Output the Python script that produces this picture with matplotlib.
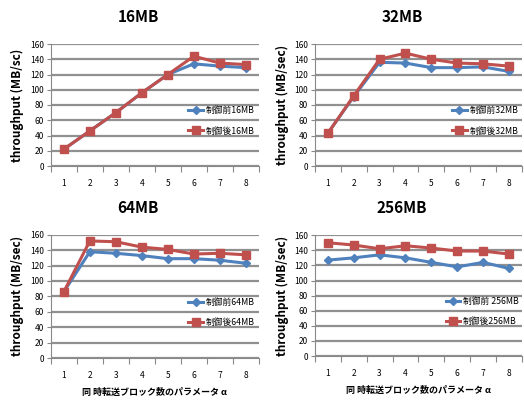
import matplotlib
matplotlib.use("Agg")
import matplotlib.pyplot as plt
import numpy as np

plt.rcParams["font.family"] = ["Noto Sans CJK JP", "DejaVu Sans"]

BLUE = "#4F81BD"
RED = "#C0504D"

alpha = [1, 2, 3, 4, 5, 6, 7, 8]
before_16 = [22, 46, 70, 96, 120, 134, 131, 129]
after_16 = [22, 46, 70, 96, 120, 144, 135, 133]
before_32 = [43, 91, 136, 135, 129, 129, 130, 124]
after_32 = [43, 92, 140, 148, 140, 135, 134, 131]
before_64 = [86, 138, 136, 133, 129, 129, 127, 123]
after_64 = [86, 152, 151, 144, 141, 135, 136, 134]
before_256 = [127, 130, 134, 130, 124, 118, 124, 116]
after_256 = [150, 147, 142, 146, 143, 139, 139, 135]

panels = [
    # title, before, after, ylabel, legend labels, axes rect, show xlabel, legend x
    ("16MB", before_16, after_16, "throughput (MB/sc)",
     ("制御前16MB", "制御後16MB"), [0.097, 0.585, 0.397, 0.305], False, 0.64),
    ("32MB", before_32, after_32, "throughput (MB/sec)",
     ("制御前32MB", "制御後32MB"), [0.601, 0.585, 0.395, 0.305], False, 0.64),
    ("64MB", before_64, after_64, "throughput (MB/sec)",
     ("制御前64MB", "制御後64MB"), [0.097, 0.105, 0.397, 0.308], True, 0.64),
    ("256MB", before_256, after_256, "throughput (MB/sec)",
     ("制御前 256MB", "制御後256MB"), [0.601, 0.110, 0.395, 0.302], True, 0.61),
]

fig = plt.figure(figsize=(5.24, 4.0), dpi=100)

for title, before, after, ylab, labels, rect, show_x, lx in panels:
    ax = fig.add_axes(rect)
    ax.plot(alpha, before, color=BLUE, lw=2.2, marker="D", ms=4.5,
            label=labels[0])
    ax.plot(alpha, after, color=RED, lw=2.2, marker="s", ms=5.5,
            label=labels[1])

    ax.set_xlim(0.5, 8.5)
    ax.set_ylim(0, 160)
    ax.set_yticks(np.arange(0, 161, 20))
    ax.set_xticks(np.arange(0.5, 8.6, 1))
    ax.set_xticklabels([])
    ax.set_xticks(alpha, minor=True)
    ax.set_xticklabels([str(a) for a in alpha], minor=True)
    ax.tick_params(axis="x", which="minor", length=0, pad=9, labelsize=6)
    ax.tick_params(axis="x", which="major", length=4, color="#888888")
    ax.tick_params(axis="y", labelsize=6, length=3, color="#888888", pad=2)

    ax.yaxis.grid(True, color="#909090", lw=1.6)
    ax.set_axisbelow(True)
    for s in ("top", "right"):
        ax.spines[s].set_visible(False)
    for s in ("left", "bottom"):
        ax.spines[s].set_color("#888888")

    ax.set_ylabel(ylab, fontsize=8.5, fontweight="bold", labelpad=4)
    ax.set_title(title, fontsize=11, fontweight="bold", pad=16, x=0.42)
    if show_x:
        ax.set_xlabel("同 時転送ブロック数のパラメータ α", fontsize=6.5,
                      fontweight="bold", labelpad=6)

    ax.legend(loc="center left", bbox_to_anchor=(lx, 0.37), frameon=False,
              fontsize=6.3, handlelength=1.7, handletextpad=0.3,
              labelspacing=1.3, borderpad=0)

fig.savefig("out.png", dpi=100)
